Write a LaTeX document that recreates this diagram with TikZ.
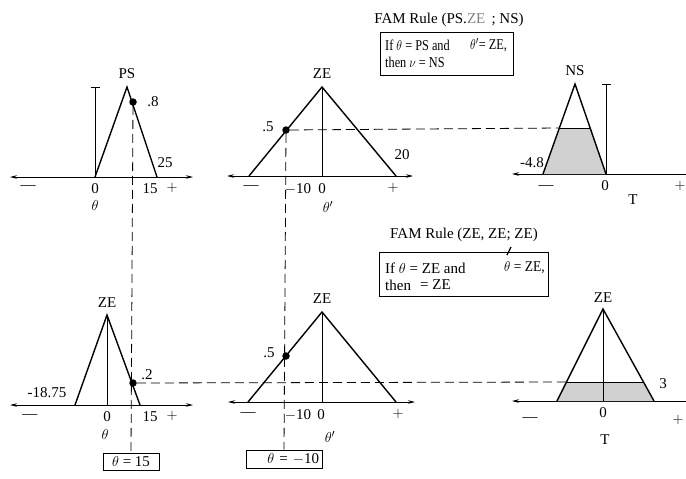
\documentclass[tikz,border=0pt]{standalone}
\usepackage{fontspec}
\usepackage{graphicx}
\setmainfont{Liberation Serif}
\usetikzlibrary{arrows.meta}
\newcommand{\narrow}[1]{\scalebox{0.82}[1]{#1}}
\begin{document}
\begin{tikzpicture}[x=1pt,y=-1pt,
  lbl/.style={inner sep=0pt,font=\fontsize{15}{17}\selectfont},
  axis/.style={line width=0.8pt,{Stealth[length=7pt,width=3.5pt]}-{Stealth[length=7pt,width=3.5pt]}},
  laxis/.style={line width=0.8pt,{Stealth[length=7pt,width=3.5pt]}-},
  mf/.style={line width=1.4pt,line join=miter},
  vline/.style={line width=0.8pt},
  guide/.style={line width=0.8pt,dash pattern=on 9pt off 5pt},
  dotpt/.style={circle,fill=black,inner sep=0pt,minimum size=7.5pt},
  rulebox/.style={draw,line width=0.8pt},
  valbox/.style={draw,line width=0.8pt,inner sep=1pt,font=\fontsize{15}{17}\selectfont},
  shade/.style={fill=black!18}
]
\useasboundingbox (0,0) rectangle (686,479);

% ---------- top left: PS ----------
\coordinate (a1) at (10,177); \coordinate (a2) at (193,177);
\draw[axis] (a1) -- (a2);
\coordinate (psl) at (95,177); \coordinate (pst) at (127,87); \coordinate (psr) at (157,177);
\draw[mf] (psl) -- (pst) -- (psr);
\coordinate (psv) at (95,87);
\draw[vline] (psl) -- (psv);
\draw[vline] (91,87) -- (100,87);
\node[dotpt] (d1) at (133,102) {};
\node[lbl] (l1) at (127,74) {PS};
\node[lbl] (l2) at (153,102) {.8};
\node[lbl] (l3) at (165,163) {25};
\node[lbl] (l4) at (95,189) {0};
\node[lbl] (l5) at (150,189) {15};
\node[lbl] (l6) at (172,188) {$+$};
\node[lbl] (l7) at (28,188) {---};
\node[lbl] (l8) at (95,205) {$\theta$};

% ---------- top middle: ZE ----------
\coordinate (b1) at (227,176); \coordinate (b2) at (413,176);
\draw[axis] (b1) -- (b2);
\coordinate (zl) at (249,176); \coordinate (zt) at (322,87); \coordinate (zr) at (396,176);
\draw[mf] (zl) -- (zt) -- (zr);
\draw[vline] (zt) -- (322,176);
\node[dotpt] (d2) at (286,130) {};
\node[lbl] (m1) at (322,74) {ZE};
\node[lbl] (m2) at (268,127) {.5};
\node[lbl] (m3) at (402,155) {20};
\node[lbl] (m4) at (251,188) {---};
\node[lbl] (m5) at (298,189) {$-$10};
\node[lbl] (m6) at (322,189) {0};
\node[lbl] (m7) at (393,188) {$+$};
\node[lbl] (m8) at (328,207) {$\theta'$};

% ---------- top right: NS ----------
\coordinate (c1) at (512,174); \coordinate (c2) at (686,174);
\draw[laxis] (c1) -- (c2);
\coordinate (nl) at (543,174); \coordinate (nt) at (575,84); \coordinate (nr) at (606,174);
\coordinate (ntl) at (559.4,128); \coordinate (ntr) at (590,128);
\fill[shade] (nl) -- (ntl) -- (ntr) -- (nr) -- cycle;
\draw[mf] (nl) -- (nt) -- (nr);
\draw[line width=0.9pt] (ntl) -- (ntr);
\draw[vline] (nr) -- (606,84);
\draw[vline] (602,84) -- (611,84);
\node[lbl] (n1) at (575,71) {NS};
\node[lbl] (n2) at (532,163) {-4.8};
\node[lbl] (n3) at (605,186) {0};
\node[lbl] (n4) at (680,186) {$+$};
\node[lbl] (n5) at (546,188) {---};
\node[lbl] (n6) at (633,200) {T};

% ---------- top rule ----------
\node[lbl] (r1) at (449,20) {FAM Rule (PS.\textcolor{gray}{ZE} \,; NS)};
\draw[rulebox] (380,32) rectangle (513,75);
\node[lbl,anchor=west] (r2) at (385,45) {\narrow{If $\theta$ = PS and}};
\node[lbl,anchor=west] (r2b) at (470,45) {\narrow{$\theta'$= ZE,}};
\node[lbl,anchor=west] (r3) at (385,62) {\narrow{then $\nu$ = NS}};

% ---------- bottom left: ZE ----------
\coordinate (e1) at (10,405); \coordinate (e2) at (193,405);
\draw[axis] (e1) -- (e2);
\coordinate (el) at (75,405); \coordinate (et) at (107,315); \coordinate (er) at (140,405);
\draw[mf] (el) -- (et) -- (er);
\draw[vline] (et) -- (107,405);
\node[dotpt] (d3) at (133,383) {};
\node[lbl] (p1) at (107,303) {ZE};
\node[lbl] (p2) at (147,375) {.2};
\node[lbl] (p3) at (47,393) {-18.75};
\node[lbl] (p4) at (107,417) {0};
\node[lbl] (p5) at (150,417) {15};
\node[lbl] (p6) at (172,416) {$+$};
\node[lbl] (p7) at (30,417) {---};
\node[lbl] (p8) at (105,434) {$\theta$};
\node[valbox,minimum width=56pt,minimum height=17pt] (v1) at (131,461.5) {$\theta$ = 15};

% ---------- bottom middle: ZE ----------
\coordinate (f1) at (228,402); \coordinate (f2) at (415,402);
\draw[axis] (f1) -- (f2);
\coordinate (fl) at (248,402); \coordinate (ft) at (322,312); \coordinate (fr) at (396,402);
\draw[mf] (fl) -- (ft) -- (fr);
\draw[vline] (ft) -- (322,402);
\node[dotpt] (d4) at (286,356) {};
\node[lbl] (q1) at (322,299) {ZE};
\node[lbl] (q2) at (269,353) {.5};
\node[lbl] (q3) at (248,415) {---};
\node[lbl] (q4) at (298,415) {$-$10};
\node[lbl] (q5) at (321,415) {0};
\node[lbl] (q6) at (398,414) {$+$};
\node[lbl] (q7) at (330,437) {$\theta'$};
\node[valbox,minimum width=76pt,minimum height=18pt,text width=70pt,align=right] (v2) at (284,459) {$\theta$ = $-$10};

% ---------- bottom right: ZE ----------
\coordinate (g1) at (512,401); \coordinate (g2) at (686,401);
\draw[laxis] (g1) -- (g2);
\coordinate (gl) at (557,401); \coordinate (gt) at (603,309); \coordinate (gr) at (654,401);
\coordinate (gtl) at (566.5,382); \coordinate (gtr) at (643.5,382);
\fill[shade] (gl) -- (gtl) -- (gtr) -- (gr) -- cycle;
\draw[mf] (gl) -- (gt) -- (gr);
\draw[line width=0.9pt] (gtl) -- (gtr);
\draw[vline] (gt) -- (603,401);
\node[lbl] (s1) at (603,298) {ZE};
\node[lbl] (s2) at (663,384) {3};
\node[lbl] (s3) at (530,420) {---};
\node[lbl] (s4) at (603,413) {0};
\node[lbl] (s5) at (678,420) {$+$};
\node[lbl] (s6) at (605,440) {T};

% ---------- bottom rule ----------
\node[lbl] (t1) at (464,235) {FAM Rule (ZE, ZE; ZE)};
\draw[rulebox] (379,252) rectangle (548,296);
\node[lbl,anchor=west] (t2) at (385,268) {If $\theta$ = ZE and};
\node[lbl,anchor=west] (t2b) at (504,268) {\scalebox{0.9}[1]{$\theta$ = ZE,}};
\node[lbl,anchor=west] (t3) at (385,285) {then};
\node[lbl,anchor=west] (t3b) at (420,285) {= ZE};
\draw[line width=1.3pt] (507,255) -- (511,247);

% ---------- guide lines ----------
\draw[guide] (d1) -- (v1.north);
\draw[guide] (d2) -- (v2.north);
\draw[guide] (d2) -- (ntl);
\draw[guide] (d3) -- (gtl);
\end{tikzpicture}
\end{document}
